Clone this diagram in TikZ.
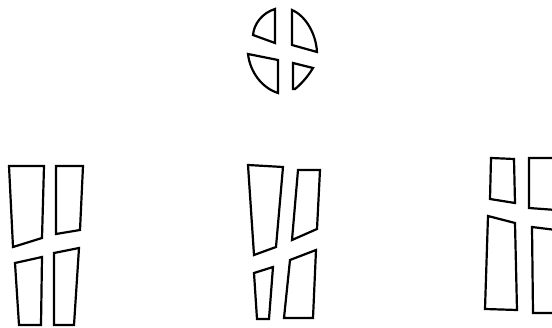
\documentclass[tikz,border=0pt]{standalone}
\usepackage{tikz}
\tikzset{pane/.style={draw=black, line width=2.2pt, line join=miter, fill=white}}

\begin{document}
\begin{tikzpicture}[x=1pt, y=-1pt]
\useasboundingbox (0,0) rectangle (552,328);

% Round window with cross
\draw[pane] (275,9) .. controls (262,13) and (254,24) .. (253,35) -- (275,43) -- cycle;
\draw[pane] (292,10) -- (292,45) -- (317,52) .. controls (316,34) and (306,16) .. cycle;
\draw[pane] (248,54) -- (278,60) -- (278,93) .. controls (262,88) and (250,72) .. cycle;
\draw[pane] (293,63) -- (313,68) .. controls (307,78) and (300,85) .. (295,89) -- (293,89) -- cycle;

% Left window
\draw[pane] (9,166) -- (44,166) -- (42,238) -- (13,247) -- cycle;
\draw[pane] (56,166) -- (83,166) -- (80,230) -- (56,234) -- cycle;
\draw[pane] (15,263) -- (42,257) -- (41,325) -- (19,325) -- cycle;
\draw[pane] (54,253) -- (79,248) -- (74,325) -- (54,325) -- cycle;

% Middle window
\draw[pane] (248,165) -- (283,167) -- (276,247) -- (254,255) -- cycle;
\draw[pane] (298,170) -- (320,170) -- (317,229) -- (292,240) -- cycle;
\draw[pane] (254,273) -- (273,267) -- (269,319) -- (257,319) -- cycle;
\draw[pane] (290,260) -- (316,250) -- (313,318) -- (284,318) -- cycle;

% Right window
\draw[pane] (491,158) -- (514,159) -- (515,203) -- (490,199) -- cycle;
\draw[pane] (529,158) -- (556,158) -- (556,210) -- (529,208) -- cycle;
\draw[pane] (488,216) -- (515,223) -- (517,310) -- (485,309) -- cycle;
\draw[pane] (532,227) -- (556,230) -- (556,313) -- (533,313) -- cycle;

\end{tikzpicture}
\end{document}
